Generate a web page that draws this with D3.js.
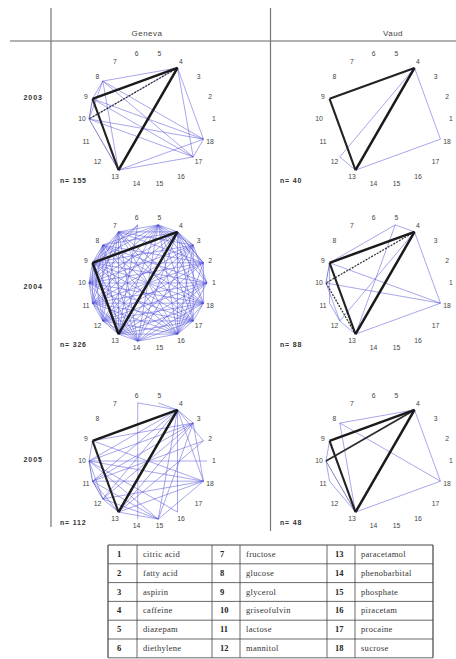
<!DOCTYPE html>
<html>
<head>
<meta charset="utf-8">
<script src="https://cdn.jsdelivr.net/npm/d3@7/dist/d3.min.js"></script>
<style>
  body { margin: 0; background: #fff; }
  text { font-family: "Liberation Sans", Arial, sans-serif; }
  text.serif { font-family: "Liberation Serif", "Times New Roman", serif; }
</style>
</head>
<body>
<script>
// canton columns, year rows
const cantons = ["Geneva", "Vaud"];
const years = ["2003", "2004", "2005"];
const nodeIds = [1, 2, 3, 4, 5, 6, 7, 8, 9, 10, 11, 12, 13, 14, 15, 16, 17, 18];

// number of samples per panel
const genevaN = [155, 326, 112];
const vaudN = [40, 88, 48];

// co-occurrence links [a, b, weight]
const geneva2003 = [
  [4, 9, 6], [4, 13, 6], [9, 13, 5], [4, 10, 3], [10, 13, 2], [9, 10, 2],
  [4, 8, 1], [8, 9, 1], [8, 10, 1], [8, 13, 1], [8, 18, 1], [4, 17, 1], [4, 18, 1],
  [9, 17, 1], [9, 18, 1], [10, 17, 1], [10, 18, 1], [13, 17, 1], [13, 18, 1], [17, 18, 1],
  [8, 17, 1], [4, 10, 1]
];
const geneva2004 = [
  [4, 9, 6], [4, 13, 6], [9, 13, 6],
  [1, 3, 1], [1, 4, 1], [1, 5, 1], [1, 8, 1], [1, 9, 1], [1, 10, 1], [1, 11, 1], [1, 12, 1], [1, 13, 1], [1, 14, 1], [1, 16, 1],
  [2, 4, 1], [2, 5, 1], [2, 7, 1], [2, 8, 1], [2, 9, 1], [2, 10, 1], [2, 11, 1], [2, 12, 1], [2, 13, 1], [2, 16, 1], [2, 18, 1],
  [3, 5, 1], [3, 7, 1], [3, 9, 1], [3, 10, 1], [3, 11, 1], [3, 12, 1], [3, 13, 1], [3, 14, 1], [3, 16, 1], [3, 17, 1],
  [4, 2, 1], [4, 3, 1], [4, 5, 1], [4, 7, 1], [4, 8, 1], [4, 10, 1], [4, 11, 1], [4, 12, 1], [4, 14, 1], [4, 16, 1], [4, 17, 1], [4, 18, 1],
  [5, 7, 1], [5, 8, 1], [5, 9, 1], [5, 10, 1], [5, 11, 1], [5, 12, 1], [5, 13, 1], [5, 14, 1], [5, 16, 1], [5, 17, 1], [5, 18, 1],
  [6, 9, 1], [6, 10, 1], [6, 13, 1],
  [7, 9, 1], [7, 10, 1], [7, 11, 1], [7, 12, 1], [7, 13, 1], [7, 14, 1], [7, 16, 1], [7, 17, 1], [7, 18, 1],
  [8, 9, 1], [8, 10, 1], [8, 11, 1], [8, 12, 1], [8, 13, 1], [8, 14, 1], [8, 16, 1], [8, 17, 1], [8, 18, 1],
  [9, 10, 1], [9, 11, 1], [9, 12, 1], [9, 14, 1], [9, 16, 1], [9, 17, 1], [9, 18, 1],
  [10, 11, 1], [10, 12, 1], [10, 14, 1], [10, 16, 1], [10, 17, 1], [10, 18, 1],
  [11, 12, 1], [11, 13, 1], [11, 14, 1], [11, 16, 1], [11, 17, 1], [11, 18, 1],
  [12, 13, 1], [12, 14, 1], [12, 16, 1], [12, 17, 1], [12, 18, 1],
  [13, 14, 1], [13, 16, 1], [13, 17, 1], [13, 18, 1],
  [14, 16, 1], [14, 17, 1], [14, 18, 1], [16, 17, 1], [16, 18, 1], [17, 18, 1]
];
const geneva2005 = [
  [4, 9, 6], [4, 13, 6], [9, 13, 5],
  [4, 6, 1], [4, 5, 1], [6, 14, 1], [4, 3, 1], [4, 2, 1], [4, 18, 1], [4, 10, 1], [4, 11, 1], [4, 12, 1], [4, 15, 1], [4, 16, 1],
  [3, 9, 1], [3, 10, 1], [3, 11, 1], [3, 12, 1], [3, 13, 1], [3, 15, 1], [3, 18, 1],
  [18, 9, 1], [18, 10, 1], [18, 11, 1], [18, 12, 1], [18, 13, 1], [18, 15, 1],
  [15, 10, 1], [15, 11, 1], [15, 12, 1], [15, 13, 1],
  [9, 10, 1], [10, 11, 2], [11, 12, 2], [10, 12, 1], [12, 13, 1], [11, 13, 1],
  [2, 11, 1], [2, 13, 1], [1, 10, 1], [16, 10, 1]
];
const vaud2003 = [
  [4, 9, 5], [4, 13, 6], [9, 13, 5], [4, 12, 1], [12, 13, 1], [4, 18, 1], [13, 18, 1]
];
const vaud2004 = [
  [4, 9, 6], [4, 13, 6], [9, 13, 5], [4, 10, 3], [10, 13, 3], [9, 10, 2],
  [10, 12, 1], [11, 12, 1], [12, 13, 1], [5, 4, 1], [5, 9, 1], [5, 13, 1], [4, 12, 1],
  [4, 18, 1], [13, 18, 1], [9, 18, 1], [10, 18, 1], [9, 11, 1]
];
const vaud2005 = [
  [4, 9, 6], [4, 13, 6], [9, 13, 5], [4, 10, 4], [8, 4, 1], [8, 13, 1], [8, 18, 1],
  [4, 18, 1], [13, 18, 1], [9, 10, 1], [10, 13, 2], [11, 13, 1], [10, 11, 1]
];

// legend table
const compoundIds = [1, 2, 3, 4, 5, 6, 7, 8, 9, 10, 11, 12, 13, 14, 15, 16, 17, 18];
const compoundNames = ["citric acid", "fatty acid", "aspirin", "caffeine", "diazepam", "diethylene",
  "fructose", "glucose", "glycerol", "griseofulvin", "lactose", "mannitol",
  "paracetamol", "phenobarbital", "phosphate", "piracetam", "procaine", "sucrose"];

const panels = [
  { canton: "Geneva", year: "2003", n: genevaN[0], links: geneva2003 },
  { canton: "Geneva", year: "2004", n: genevaN[1], links: geneva2004 },
  { canton: "Geneva", year: "2005", n: genevaN[2], links: geneva2005 },
  { canton: "Vaud", year: "2003", n: vaudN[0], links: vaud2003 },
  { canton: "Vaud", year: "2004", n: vaudN[1], links: vaud2004 },
  { canton: "Vaud", year: "2005", n: vaudN[2], links: vaud2005 }
];

const W = 456, H = 659;
const svg = d3.select("body").append("svg")
  .attr("width", W)
  .attr("height", H);

const colX = d3.scaleOrdinal().domain(cantons).range([148, 385]);
const rowY = d3.scaleOrdinal().domain(years).range([119, 283, 461]);
const angle = d3.scaleLinear().domain([1, 19]).range([0, 2 * Math.PI]);
const nodeR = 59, labelR = 66;
const pt = (id, r) => [r * Math.cos(angle(id)), -r * Math.sin(angle(id))];

const strokeW = d3.scaleLinear().domain([1, 2, 3, 6]).range([0.75, 1, 1.3, 2.5]);
const strokeC = d3.scaleLinear().domain([1, 2, 3, 6])
  .range(["#4a4ad8", "#3a3aa8", "#333333", "#1a1a1a"]);

// grid lines
svg.append("line").attr("x1", 10).attr("x2", W).attr("y1", 41).attr("y2", 41)
  .attr("stroke", "#666").attr("stroke-width", 1);
svg.append("line").attr("x1", 51).attr("x2", 51).attr("y1", 8).attr("y2", 527)
  .attr("stroke", "#777").attr("stroke-width", 1.2);
svg.append("line").attr("x1", 270.5).attr("x2", 270.5).attr("y1", 8).attr("y2", 531)
  .attr("stroke", "#777").attr("stroke-width", 1.2);

// headers
svg.selectAll(".head")
  .data(cantons)
  .join("text")
  .attr("x", (d, i) => [147, 393][i])
  .attr("y", 36)
  .attr("text-anchor", "middle")
  .attr("font-size", 8)
  .attr("letter-spacing", 0.5)
  .attr("fill", "#444")
  .text(d => d);

svg.selectAll(".year")
  .data(years)
  .join("text")
  .attr("x", 43)
  .attr("y", (d, i) => [100, 289, 462][i])
  .attr("text-anchor", "end")
  .attr("font-size", 7)
  .attr("letter-spacing", 1)
  .attr("font-weight", "bold")
  .attr("fill", "#333")
  .text(d => d);

// one circular network per panel
panels.forEach(p => {
  const cx = colX(p.canton), cy = rowY(p.year);
  const g = svg.append("g").attr("transform", `translate(${cx},${cy})`);

  const links = p.links.slice().sort((a, b) => a[2] - b[2]);
  g.selectAll("line")
    .data(links)
    .join("line")
    .attr("x1", d => pt(d[0], nodeR)[0])
    .attr("y1", d => pt(d[0], nodeR)[1])
    .attr("x2", d => pt(d[1], nodeR)[0])
    .attr("y2", d => pt(d[1], nodeR)[1])
    .attr("stroke", d => strokeC(d[2]))
    .attr("stroke-width", d => strokeW(d[2]))
    .attr("stroke-opacity", d => d[2] < 3 ? 0.65 : 1)
    .attr("stroke-dasharray", d => d[2] === 3 ? "2,1.2" : null);

  g.selectAll("text")
    .data(nodeIds)
    .join("text")
    .attr("x", d => pt(d, labelR)[0])
    .attr("y", d => pt(d, labelR)[1] + 2.4)
    .attr("text-anchor", "middle")
    .attr("font-size", 6.8)
    .attr("fill", "#444")
    .text(d => d);

  svg.append("text")
    .attr("x", p.canton === "Geneva" ? 60 : 280)
    .attr("y", cy + 64)
    .attr("font-size", 7)
    .attr("letter-spacing", 0.8)
    .attr("font-weight", "bold")
    .attr("fill", "#333")
    .text(`n= ${p.n}`);
});

// compound table
const colEdges = [108, 137, 212, 240, 327, 355, 433];
const tTop = 545, rowH = 18.8, nRows = 6;
const tab = svg.append("g");
d3.range(nRows + 1).forEach(i => {
  tab.append("line")
    .attr("x1", colEdges[0]).attr("x2", colEdges[6])
    .attr("y1", tTop + i * rowH).attr("y2", tTop + i * rowH)
    .attr("stroke", "#444").attr("stroke-width", i === 0 ? 1.2 : 0.8);
});
colEdges.forEach((x, i) => {
  tab.append("line")
    .attr("x1", x).attr("x2", x)
    .attr("y1", tTop).attr("y2", tTop + nRows * rowH)
    .attr("stroke", "#444").attr("stroke-width", (i === 0 || i === 6) ? 1.2 : 0.8);
});
compoundIds.forEach((id, k) => {
  const c = Math.floor(k / nRows), r = k % nRows;
  const y = tTop + r * rowH + rowH / 2 + 2.6;
  tab.append("text")
    .attr("class", "serif")
    .attr("x", colEdges[c * 2] + (c === 0 ? 9 : 8))
    .attr("y", y)
    .attr("font-size", 8.5)
    .attr("font-weight", "bold")
    .attr("fill", "#222")
    .text(id);
  tab.append("text")
    .attr("class", "serif")
    .attr("x", colEdges[c * 2 + 1] + 6)
    .attr("y", y)
    .attr("font-size", 8.5)
    .attr("letter-spacing", 0.3)
    .attr("fill", "#333")
    .text(compoundNames[k]);
});
</script>
</body>
</html>
